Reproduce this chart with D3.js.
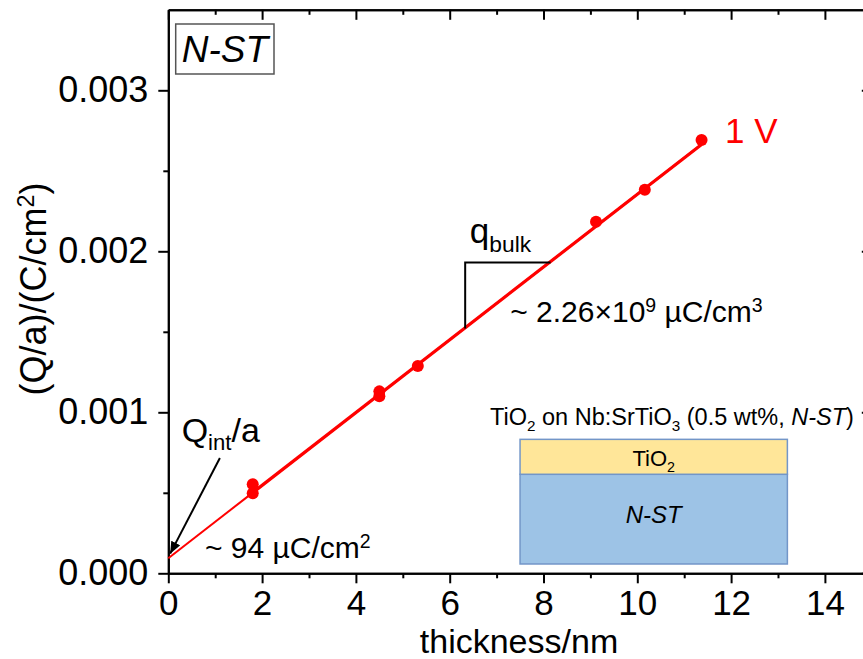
<!DOCTYPE html>
<html>
<head>
<meta charset="utf-8">
<script src="https://cdn.jsdelivr.net/npm/d3@7"></script>
<style>
  body { margin: 0; background: #fff; }
  text { font-family: "Liberation Sans", Arial, sans-serif; }
</style>
</head>
<body>
<svg id="chart" width="863" height="659"></svg>
<script>
// Data
var thickness = [1.8, 1.8, 4.5, 4.5, 5.32, 9.12, 10.16, 11.37];        // nm
var charge    = [0.000497, 0.000553, 0.00110, 0.00113, 0.001288, 0.002184, 0.002382, 0.002691]; // C/cm2
var fitLine   = [[0, 0.000094], [11.37, 0.002664]];                        // linear fit, 1 V (extrapolated)
var fitData   = [[1.8, 0.000501], [11.37, 0.002664]];                      // fit over the measured range
var slopeMark = [[6.33, 0.00152], [6.33, 0.00193], [8.15, 0.00193]];       // q_bulk triangle
var xMajor = [0, 2, 4, 6, 8, 10, 12, 14];
var xMinor = [1, 3, 5, 7, 9, 11, 13];
var yMajor = [0, 0.001, 0.002, 0.003];
var yMinor = [0.0005, 0.0015, 0.0025];

var svg = d3.select("#chart");

// Scales
var x = d3.scaleLinear().domain([0, 15]).range([168.3, 871.8]);
var y = d3.scaleLinear().domain([0, 0.0035]).range([573.3, 9.8]);

// Axis helper
function drawAxis(axis, transform, labels) {
    var g = svg.append("g").attr("transform", transform).call(axis);
    g.selectAll("path, line").attr("stroke", "#000").attr("stroke-width", 2);
    g.selectAll("text").attr("fill", "#000").style("font-size", "35px")
        .style("font-family", "'Liberation Sans', Arial, sans-serif");
    if (!labels) g.selectAll("text").remove();
    return g;
}

// Bottom axis (ticks outward)
drawAxis(d3.axisBottom(x).tickValues(xMajor).tickSize(10).tickSizeOuter(0).tickPadding(7)
    .tickFormat(d3.format("d")), "translate(0," + y(0) + ")", true);
drawAxis(d3.axisBottom(x).tickValues(xMinor).tickSize(5).tickSizeOuter(0), "translate(0," + y(0) + ")", false);
// Top axis (ticks inward)
drawAxis(d3.axisTop(x).tickValues(xMajor).tickSize(-10).tickSizeOuter(0), "translate(0," + y(0.0035) + ")", false);
drawAxis(d3.axisTop(x).tickValues(xMinor).tickSize(-5).tickSizeOuter(0), "translate(0," + y(0.0035) + ")", false);
// Left axis (ticks outward)
drawAxis(d3.axisLeft(y).tickValues(yMajor).tickSize(10).tickSizeOuter(0).tickPadding(10)
    .tickFormat(d3.format(".3f")), "translate(" + x(0) + ",0)", true)
    .selectAll("text").style("font-size", "36px");
drawAxis(d3.axisLeft(y).tickValues(yMinor).tickSize(5).tickSizeOuter(0), "translate(" + x(0) + ",0)", false);
// Right axis (ticks inward)
drawAxis(d3.axisRight(y).tickValues(yMajor).tickSize(-10).tickSizeOuter(0), "translate(" + x(15) + ",0)", false);
drawAxis(d3.axisRight(y).tickValues(yMinor).tickSize(-5).tickSizeOuter(0), "translate(" + x(15) + ",0)", false);

// Text with sub/superscripts
function richText(px, py, size, parts, color, anchor) {
    var t = svg.append("text")
        .attr("x", px).attr("y", py)
        .attr("fill", color || "#000")
        .attr("text-anchor", anchor || "start")
        .style("font-size", size + "px");
    var shift = 0;
    parts.forEach(function(p) {
        var target = p.sup ? -0.32 * size : (p.sub ? 0.25 * size : 0);
        var s = t.append("tspan").text(p.t).attr("dy", target - shift);
        shift = target;
        if (p.sup || p.sub) s.style("font-size", (0.65 * size) + "px");
        if (p.it) s.style("font-style", "italic");
    });
    return t;
}

// Axis titles
richText(519, 652.5, 34, [{t: "thickness/nm"}], "#000", "middle");
richText(0, 0, 36, [{t: "(Q/a)/(C/cm"}, {t: "2", sup: true}, {t: ")"}], "#000", "middle")
    .attr("transform", "translate(46,289) rotate(-90)");

// Inset: layer stack
svg.append("rect")
    .attr("x", x(7.5)).attr("y", y(0.000615))
    .attr("width", x(13.2) - x(7.5)).attr("height", y(0.0000578) - y(0.000615))
    .attr("fill", "#9dc3e6").attr("stroke", "#7396c8").attr("stroke-width", 1.5);
svg.append("rect")
    .attr("x", x(7.5)).attr("y", y(0.000832))
    .attr("width", x(13.2) - x(7.5)).attr("height", y(0.000615) - y(0.000832))
    .attr("fill", "#ffe699").attr("stroke", "#7396c8").attr("stroke-width", 1.5);
richText(x(10.35), 466, 22, [{t: "TiO"}, {t: "2", sub: true}], "#000", "middle");
richText(x(10.35), 523, 24, [{t: "N-ST", it: true}], "#000", "middle");
richText(x(6.86), y(0.000921), 23.5, [
    {t: "TiO"}, {t: "2", sub: true}, {t: " on Nb:SrTiO"}, {t: "3", sub: true},
    {t: " (0.5 wt%, "}, {t: "N-ST", it: true}, {t: ")"}
]);

// Fit line and data
var line = d3.line().x(function(d) { return x(d[0]); }).y(function(d) { return y(d[1]); });
svg.append("path").datum(fitLine).attr("d", line)
    .attr("fill", "none").attr("stroke", "#ff0000").attr("stroke-width", 2);
svg.append("path").datum(fitData).attr("d", line)
    .attr("fill", "none").attr("stroke", "#ff0000").attr("stroke-width", 3.2);
var points = thickness.map(function(t, i) { return [t, charge[i]]; });
svg.append("g").selectAll("circle").data(points).enter().append("circle")
    .attr("cx", function(d) { return x(d[0]); })
    .attr("cy", function(d) { return y(d[1]); })
    .attr("r", 6).attr("fill", "#ff0000");

// Slope triangle
svg.append("path").datum(slopeMark).attr("d", line)
    .attr("fill", "none").attr("stroke", "#000").attr("stroke-width", 2);

// Arrow to intercept
svg.append("defs").append("marker")
    .attr("id", "arrow").attr("viewBox", "0 0 12 10")
    .attr("refX", 12).attr("refY", 5)
    .attr("markerWidth", 12).attr("markerHeight", 10)
    .attr("markerUnits", "userSpaceOnUse").attr("orient", "auto")
    .append("path").attr("d", "M0,0 L12,5 L0,10 Z").attr("fill", "#000");
svg.append("line")
    .attr("x1", x(1.10)).attr("y1", y(0.000716))
    .attr("x2", x(0.04)).attr("y2", y(0.000122))
    .attr("stroke", "#000").attr("stroke-width", 2)
    .attr("marker-end", "url(#arrow)");

// Annotations
richText(x(0.285), y(0.000817), 34, [{t: "Q"}, {t: "int", sub: true}, {t: "/a"}]);
richText(x(0.78), y(0.000095), 30, [{t: "~ 94 \u00b5C/cm"}, {t: "2", sup: true}]);
richText(x(6.43), y(0.002052), 35, [{t: "q"}, {t: "bulk", sub: true}]);
richText(x(7.29), y(0.001563), 30, [
    {t: "~ 2.26\u00d710"}, {t: "9", sup: true}, {t: " \u00b5C/cm"}, {t: "3", sup: true}
]);
richText(x(11.87), y(0.002675), 35, [{t: "1 V"}], "#ff0000");

// Sample label box
svg.append("rect")
    .attr("x", 175.7).attr("y", 24).attr("width", 98.3).attr("height", 50)
    .attr("fill", "#fff").attr("stroke", "#555").attr("stroke-width", 1.5);
richText(225, 61.7, 37, [{t: "N-ST", it: true}], "#000", "middle");
</script>
</body>
</html>
